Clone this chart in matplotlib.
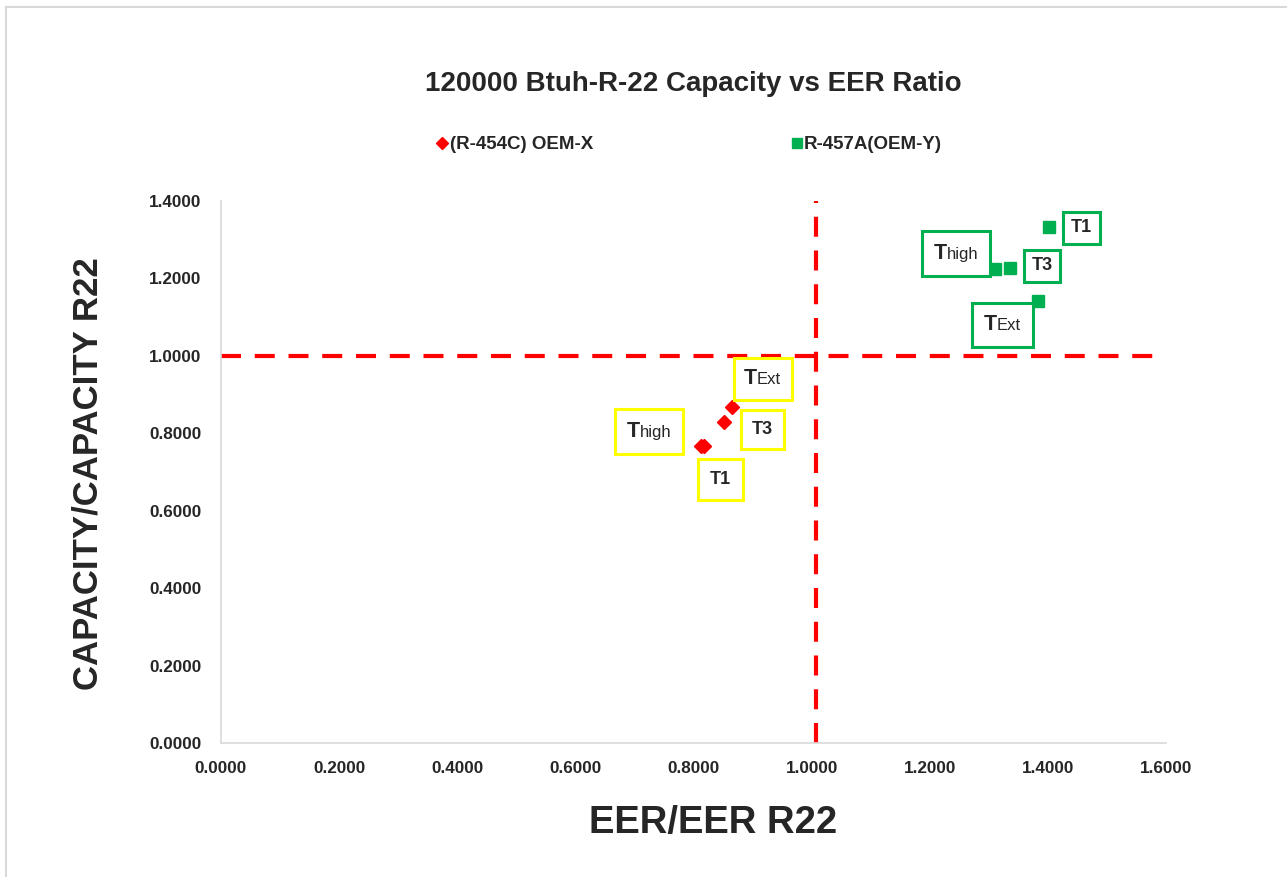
import matplotlib
matplotlib.use("Agg")
from matplotlib import pyplot as plt
from matplotlib.lines import Line2D
from matplotlib.offsetbox import TextArea, HPacker, AnnotationBbox

plt.rcParams['font.family'] = ['Liberation Sans', 'DejaVu Sans']

RED = "#FF0000"
GREEN = "#00B050"
YELLOW = "#FFFF00"

title = "120000 Btuh-R-22 Capacity vs EER Ratio"
series_names = ["(R-454C) OEM-X", "R-457A(OEM-Y)"]

# point order: Thigh, T1, T3, TExt
point_names = [("T", "high"), ("T1", ""), ("T3", ""), ("T", "Ext")]
r454_eer = [0.812, 0.818, 0.851, 0.866]
r454_cap = [0.767, 0.767, 0.829, 0.868]
r457_eer = [1.310, 1.402, 1.336, 1.384]
r457_cap = [1.224, 1.333, 1.227, 1.142]

# label box centres, same order
r454_lab_x = [0.725, 0.846, 0.917, 0.917]
r454_lab_y = [0.804, 0.680, 0.809, 0.941]
r457_lab_x = [1.244, 1.457, 1.390, 1.323]
r457_lab_y = [1.264, 1.331, 1.233, 1.080]

# reference lines
vline_x = [1.008, 1.008]
vline_y = [0.0, 1.4]
hline_x = [0.0, 1.6]
hline_y = [1.0, 1.0]

xticks = [0.0, 0.2, 0.4, 0.6, 0.8, 1.0, 1.2, 1.4, 1.6]
yticks = [0.0, 0.2, 0.4, 0.6, 0.8, 1.0, 1.2, 1.4]

fig = plt.figure(figsize=(12.87, 8.77), dpi=100)
ax = fig.add_axes([0.1717, 0.1528, 0.7343, 0.6180])

ax.plot(vline_x, vline_y, color=RED, lw=3, dashes=(4.8, 3.3), clip_on=False, zorder=2)
ax.plot(hline_x, hline_y, color=RED, lw=3, dashes=(4.8, 3.3), clip_on=False, zorder=2)

h1, = ax.plot(r454_eer, r454_cap, linestyle="none", marker="D", markersize=7.5,
              color=RED, label=series_names[0], zorder=3)
h2, = ax.plot(r457_eer, r457_cap, linestyle="none", marker="s", markersize=9,
              color=GREEN, label=series_names[1], zorder=3)


def add_label(x, y, big, small, edge, pad):
    if small:
        parts = [TextArea(big, textprops=dict(fontsize=15.5, fontweight="bold", color="#262626")),
                 TextArea(small, textprops=dict(fontsize=12, color="#262626"))]
        box = HPacker(children=parts, align="baseline", pad=0, sep=0)
    else:
        box = TextArea(big, textprops=dict(fontsize=13, fontweight="bold", color="#262626"))
    ab = AnnotationBbox(box, (x, y), xycoords="data", frameon=True, pad=pad,
                        bboxprops=dict(edgecolor=edge, linewidth=2.2, facecolor="white"),
                        zorder=4)
    ax.add_artist(ab)


red_pads = [0.85, 0.85, 0.8, 0.75]
green_pads = [0.85, 0.55, 0.55, 0.85]
for (big, small), x, y, p in zip(point_names, r454_lab_x, r454_lab_y, red_pads):
    add_label(x, y, big, small, YELLOW, p)
for (big, small), x, y, p in zip(point_names, r457_lab_x, r457_lab_y, green_pads):
    add_label(x, y, big, small, GREEN, p)

ax.set_xlim(0, 1.6)
ax.set_ylim(0, 1.4)
ax.set_xticks(xticks)
ax.set_yticks(yticks)
ax.set_xticklabels([f"{v:.4f}" for v in xticks])
ax.set_yticklabels([f"{v:.4f}" for v in yticks])
ax.tick_params(length=0, labelsize=12.3, colors="#262626")
ax.tick_params(axis="x", pad=13)
ax.tick_params(axis="y", pad=14)
for lab in ax.get_xticklabels() + ax.get_yticklabels():
    lab.set_fontweight("bold")

for s in ["top", "right"]:
    ax.spines[s].set_visible(False)
for s in ["left", "bottom"]:
    ax.spines[s].set_color("#D9D9D9")
    ax.spines[s].set_linewidth(1.2)

fig.text(0.5385, 0.904, title, ha="center", va="center", fontsize=20,
         fontweight="bold", color="#262626")
fig.text(0.554, 0.062, "EER/EER R22", ha="center", va="center", fontsize=27.5,
         fontweight="bold", color="#262626")
fig.text(0.068, 0.46, "CAPACITY/CAPACITY R22", ha="center", va="center", fontsize=25,
         fontweight="bold", color="#262626", rotation=90)

leg = fig.legend(handles=[h1, h2], loc="center", bbox_to_anchor=(0.536, 0.835),
                 ncol=2, frameon=False, handlelength=0.5, handletextpad=0.15,
                 columnspacing=10.6, markerscale=0.8,
                 prop=dict(size=13.5, weight="bold"))
for t in leg.get_texts():
    t.set_color("#262626")

# chart frame (only top and left edges visible)
fig.add_artist(Line2D([0.0047, 1.0], [0.992, 0.992], color="#D9D9D9", lw=1.5,
                      transform=fig.transFigure))
fig.add_artist(Line2D([0.0047, 0.0047], [0.0, 0.992], color="#D9D9D9", lw=1.5,
                      transform=fig.transFigure))

fig.savefig("out.png", dpi=100)
